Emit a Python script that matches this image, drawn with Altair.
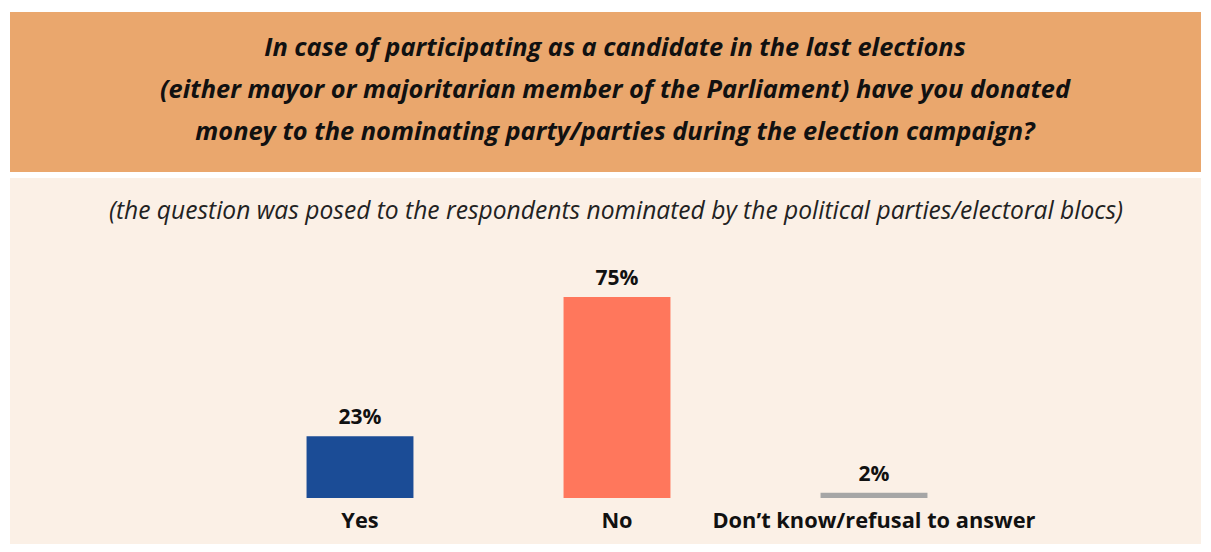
import altair as alt
import pandas as pd

categories = ["Yes", "No", "Don’t know/refusal to answer"]
values = [23, 75, 2]
value_labels = ["23%", "75%", "2%"]
bar_colors = ["#1B4C96", "#FF775C", "#A6A6A6"]

title_lines = [
    "In case of participating as a candidate in the last elections",
    "(either mayor or majoritarian member of the Parliament) have you donated",
    "money to the nominating party/parties during the election campaign?",
]
subtitle = "(the question was posed to the respondents nominated by the political parties/electoral blocs)"

FONT = "Open Sans"
W, H = 1195, 536

df = pd.DataFrame({"cat": categories, "val": values, "lab": value_labels, "zero": [0, 0, 0]})
one = pd.DataFrame({"a": [0]})

xscale = alt.Scale(domain=categories, range=[223.5, 994.5], paddingInner=0.584, paddingOuter=0.292)
yscale = alt.Scale(domain=[0, 100], range=[490, 222], nice=False, zero=False)

orange = alt.Chart(one).mark_rect(color="#EAA76D").encode(
    x=alt.value(2), x2=alt.value(1193), y=alt.value(4), y2=alt.value(164)
)
cream = alt.Chart(one).mark_rect(color="#FBF0E6").encode(
    x=alt.value(2), x2=alt.value(1193), y=alt.value(170), y2=alt.value(536)
)
title = alt.Chart(one).mark_text(
    text=title_lines, font=FONT, fontSize=25.4, fontWeight="bold", fontStyle="italic",
    lineHeight=42, align="center", baseline="middle", color="#111111"
).encode(x=alt.value(607), y=alt.value(40))
sub = alt.Chart(one).mark_text(
    text=subtitle, font=FONT, fontSize=24.6, fontStyle="italic",
    align="center", baseline="middle", color="#222222"
).encode(x=alt.value(608), y=alt.value(204))

bars = alt.Chart(df).mark_bar().encode(
    x=alt.X("cat:N", sort=categories, scale=xscale, axis=None),
    y=alt.Y("val:Q", scale=yscale, axis=None),
    y2=alt.Y2("zero:Q"),
    color=alt.Color("cat:N", scale=alt.Scale(domain=categories, range=bar_colors), legend=None),
)
vlabels = alt.Chart(df).mark_text(
    font=FONT, fontSize=21, fontWeight="bold", dy=-12, baseline="alphabetic", color="#111111"
).encode(
    x=alt.X("cat:N", sort=categories, scale=xscale, axis=None),
    y=alt.Y("val:Q", scale=yscale, axis=None),
    text="lab:N",
)
clabels = alt.Chart(df).mark_text(
    font=FONT, fontSize=21.8, fontWeight="bold", dy=30, baseline="alphabetic", color="#111111"
).encode(
    x=alt.X("cat:N", sort=categories, scale=xscale, axis=None),
    y=alt.Y("zero:Q", scale=yscale, axis=None),
    text="cat:N",
)

chart = alt.layer(orange, cream, title, sub, bars, vlabels, clabels).properties(
    width=W, height=H, padding=0, autosize=alt.AutoSizeParams(type="none"),
    background="white",
).configure_view(stroke=None)

chart.save("out.html", embed_options={"renderer": "svg", "actions": False})
